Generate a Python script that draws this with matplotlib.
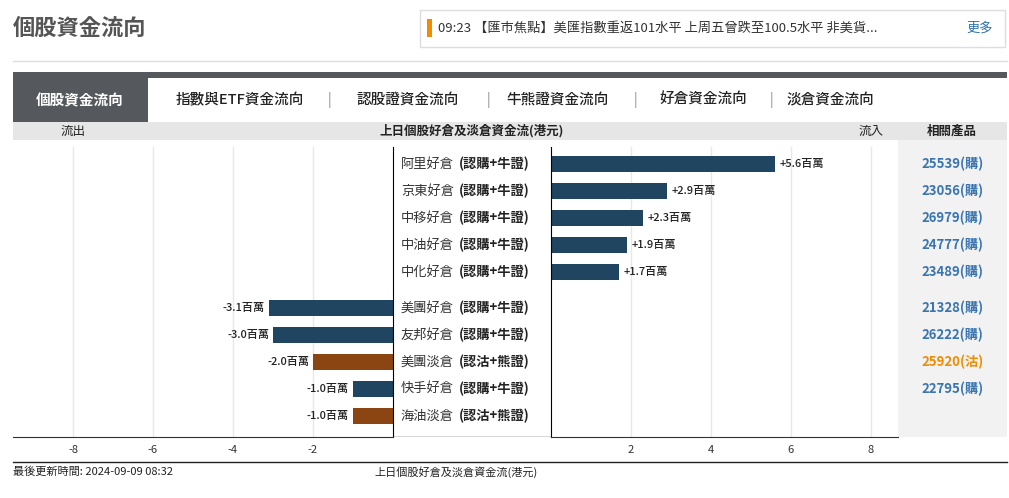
import numpy as np
import matplotlib.pyplot as plt
from matplotlib.patches import Rectangle
from matplotlib import font_manager

cjk = [f.name for f in font_manager.fontManager.ttflist if 'CJK' in f.name]
plt.rcParams['font.family'] = 'sans-serif'
plt.rcParams['font.sans-serif'] = ['Noto Sans CJK TC', 'Noto Sans CJK JP', 'Noto Sans CJK SC'] + cjk + ['DejaVu Sans']
plt.rcParams['axes.unicode_minus'] = False

in_names = ['阿里好倉', '京東好倉', '中移好倉', '中油好倉', '中化好倉']
in_types = ['(認購+牛證)'] * 5
in_vals = [5.6, 2.9, 2.3, 1.9, 1.7]
in_codes = ['25539(購)', '23056(購)', '26979(購)', '24777(購)', '23489(購)']

out_names = ['美團好倉', '友邦好倉', '美團淡倉', '快手好倉', '海油淡倉']
out_types = ['(認購+牛證)', '(認購+牛證)', '(認沽+熊證)', '(認購+牛證)', '(認沽+熊證)']
out_vals = [-3.1, -3.0, -2.0, -1.0, -1.0]
out_codes = ['21328(購)', '26222(購)', '25920(沽)', '22795(購)', '']
out_bull = [True, True, False, True, False]

tabs = ['指數與ETF資金流向', '認股證資金流向', '牛熊證資金流向', '好倉資金流向', '淡倉資金流向']
left_ticks = [-8, -6, -4, -2]
right_ticks = [2, 4, 6, 8]

BLUE = '#1f4560'
BROWN = '#8b4513'
W, H = 1009, 498

fig = plt.figure(figsize=(W/100, H/100), dpi=100)

def px_axes(x0, y0, x1, y1):
    # axes from pixel box (top-left origin)
    return fig.add_axes([x0/W, 1-y1/H, (x1-x0)/W, (y1-y0)/H])

# background / decoration axes in pixel coords
bg = fig.add_axes([0, 0, 1, 1])
bg.set_xlim(0, W); bg.set_ylim(H, 0); bg.axis('off')
bg.text(13, 28, '個股資金流向', fontsize=16, color='#555555', va='center', weight='bold')
bg.add_patch(Rectangle((420, 10), 585, 37, fc='white', ec='#dddddd', lw=1))
bg.add_patch(Rectangle((427, 19), 5, 18, fc='#f08c00', ec='none'))
bg.text(438, 28, '09:23 【匯市焦點】美匯指數重返101水平 上周五曾跌至100.5水平 非美貨...',
        fontsize=9.5, color='#333333', va='center')
bg.text(966, 28, '更多', fontsize=9.5, color='#2a6fb0', va='center')
bg.plot([13, 1007], [61, 61], color='#dddddd', lw=1)
bg.add_patch(Rectangle((13, 72), 994, 6, fc='#55585c', ec='none'))
bg.add_patch(Rectangle((13, 78), 135, 44, fc='#55585c', ec='none'))
bg.text(80, 100, '個股資金流向', fontsize=10.5, color='white', va='center', ha='center', weight='bold')
tx = [240, 408, 558, 703, 830]
for i, t in enumerate(tabs):
    bg.text(tx[i], 100, t, fontsize=10.5, color='#222222', va='center', ha='center', weight='medium')
    if i < len(tabs) - 1:
        bg.text((tx[i] + tx[i+1]) / 2 + 5, 100, '|', fontsize=10, color='#888888', va='center', ha='center')
bg.add_patch(Rectangle((13, 122), 994, 18, fc='#e6e6e6', ec='none'))
bg.text(73, 131, '流出', fontsize=9, color='#222222', va='center', ha='center')
bg.text(472, 131, '上日個股好倉及淡倉資金流(港元)', fontsize=9, color='#222222', va='center', ha='center', weight='bold')
bg.text(871, 131, '流入', fontsize=9, color='#222222', va='center', ha='center')
bg.text(952, 131, '相關產品', fontsize=9, color='#222222', va='center', ha='center', weight='bold')
bg.add_patch(Rectangle((898, 140), 109, 297, fc='#f2f2f2', ec='none'))
for i, ch in enumerate('五大資金流入'):
    bg.text(40, 165 + i*20, ch, fontsize=9.5, color='#333333', ha='center', va='center')
for i, ch in enumerate('五大資金流出'):
    bg.text(40, 313 + i*20, ch, fontsize=9.5, color='#333333', ha='center', va='center')
bg.plot([13, 1007], [462, 462], color='#222222', lw=1)
bg.text(13, 472, '最後更新時間: 2024-09-09 08:32', fontsize=8, color='#222222', va='center')
bg.text(456, 472, '上日個股好倉及淡倉資金流(港元)', fontsize=8, color='#222222', va='center', ha='center')

# row positions: inflow rows 0..4, outflow rows after a gap
in_pos = np.arange(len(in_vals))
out_pos = np.arange(len(out_vals)) + 5.33
ylim = (10.11, -0.63)

# left (outflow) axes
axl = px_axes(13, 147, 393, 437)
axl.barh(out_pos, out_vals, height=0.6, color=[BLUE if b else BROWN for b in out_bull])
axl.set_xlim(-9.5, 0); axl.set_ylim(*ylim)
axl.set_xticks(left_ticks)
axl.xaxis.grid(True, color='#e8e8e8', lw=1)
axl.set_axisbelow(True)
for p, v in zip(out_pos, out_vals):
    axl.text(v - 0.1, p, '%.1f百萬' % v, fontsize=8, ha='right', va='center', color='#222222', weight='medium')

# right (inflow) axes
axr = px_axes(551, 147, 898, 437)
axr.barh(in_pos, in_vals, height=0.6, color=BLUE)
axr.set_xlim(0, 8.675); axr.set_ylim(*ylim)
axr.set_xticks(right_ticks)
axr.xaxis.grid(True, color='#e8e8e8', lw=1)
axr.set_axisbelow(True)
for p, v in zip(in_pos, in_vals):
    axr.text(v + 0.12, p, '+%.1f百萬' % v, fontsize=8, ha='left', va='center', color='#222222', weight='medium')

for ax in (axl, axr):
    ax.set_yticks([])
    for s in ('top', 'right', 'left'):
        ax.spines[s].set_visible(False)
    ax.spines['bottom'].set_color('#333333')
    ax.tick_params(axis='x', length=0, labelsize=8, colors='#333333', pad=6)
axl.spines['right'].set_visible(True)
axr.spines['left'].set_visible(True)

# middle label column
axm = px_axes(393, 147, 551, 437)
axm.set_xlim(0, 1); axm.set_ylim(*ylim); axm.axis('off')
axm.plot([0, 1], [ylim[0], ylim[0]], color='#333333', lw=1)
for p, n, t in list(zip(in_pos, in_names, in_types)) + list(zip(out_pos, out_names, out_types)):
    axm.text(0.05, p, n, fontsize=9.5, va='center', color='#333333')
    axm.text(0.05 + 0.37, p, t, fontsize=9.5, va='center', color='#222222', weight='bold')

# product codes
axp = px_axes(898, 147, 1007, 437)
axp.set_xlim(0, 1); axp.set_ylim(*ylim); axp.axis('off')
for p, c in zip(in_pos, in_codes):
    axp.text(0.5, p, c, fontsize=9.5, ha='center', va='center', color='#3a75b0', weight='bold')
for p, c, b in zip(out_pos, out_codes, out_bull):
    axp.text(0.5, p, c, fontsize=9.5, ha='center', va='center',
             color='#3a75b0' if b else '#f08c00', weight='bold')

fig.savefig('out.png', dpi=100)
